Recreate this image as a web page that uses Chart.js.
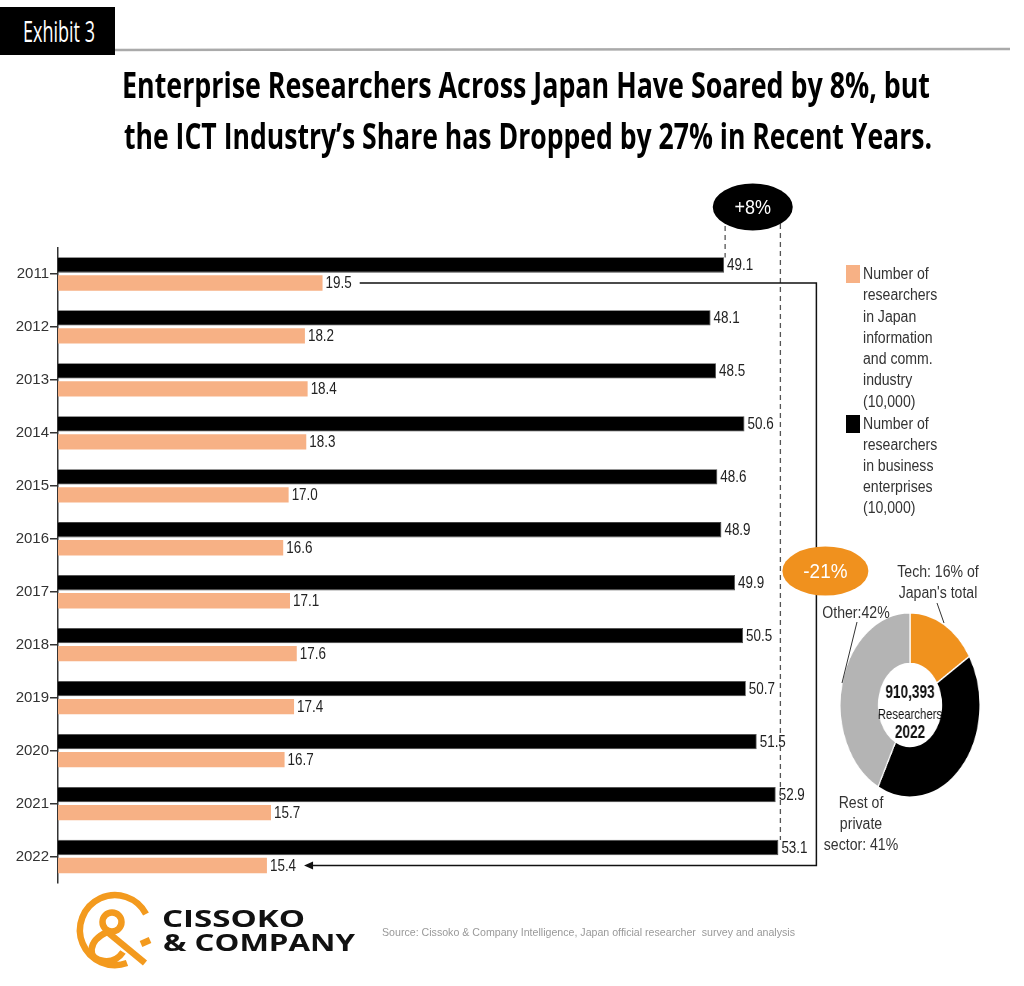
<!DOCTYPE html>
<html><head><meta charset="utf-8">
<script src="https://cdn.jsdelivr.net/npm/chart.js@4.4.1/dist/chart.umd.min.js"></script>
<style>
html,body{margin:0;padding:0;background:#fff;}
#wrap{position:relative;width:1024px;height:986px;overflow:hidden;font-family:"Liberation Sans",Arial,sans-serif;color:#333;}
.abs{position:absolute;white-space:pre;}
.fit{display:inline-block;transform-origin:0 50%;}
.cond{transform:scaleX(0.88);transform-origin:0 0;}
.ccond{transform:scaleX(0.88);transform-origin:50% 0;text-align:center;}
</style></head><body>
<div id="wrap">
<canvas id="bar" width="1024" height="986" style="position:absolute;left:0;top:0"></canvas>
<canvas id="donut" width="186" height="186" style="position:absolute;left:816.5px;top:612px;transform:scaleX(0.758);transform-origin:50% 50%"></canvas>

<svg width="1024" height="986" style="position:absolute;left:0;top:0" xmlns="http://www.w3.org/2000/svg">
  <rect x="0" y="7" width="115" height="48" fill="#000"/>
  <line x1="115" y1="50" x2="1010" y2="49" stroke="#aaa" stroke-width="2.5"/>
  <rect x="846" y="265" width="14" height="18" fill="#F7B185"/>
  <rect x="846" y="415" width="14" height="18" fill="#000"/>
  <line x1="937" y1="603" x2="944" y2="623" stroke="#333" stroke-width="1"/>
  <line x1="857" y1="622" x2="842" y2="683" stroke="#333" stroke-width="1"/>
  <g fill="none" stroke="#F39A1E" stroke-width="6.5" stroke-linecap="butt">
    <path d="M146 914 A35 35 0 1 0 127 963"/>
    <path d="M141 944 L150 940"/>
    <circle cx="112" cy="922" r="9.5"/>
    <path d="M105 930 L145 963"/>
    <path d="M107 932 C88 941 86 959 104 961 C113 962 119 958 123 952"/>
  </g>
</svg>

<div class="abs" style="left:23px;top:11px;font:30px 'Open Sans',sans-serif;color:#fff;line-height:40px"><span class="fit" data-w="72">Exhibit 3</span></div>

<div class="abs" style="left:122px;top:64px;font:700 35px 'Open Sans',sans-serif;color:#000;line-height:42px"><span class="fit" data-w="808">Enterprise Researchers Across Japan Have Soared by 8%, but</span></div>
<div class="abs" style="left:124px;top:115px;font:700 35px 'Open Sans',sans-serif;color:#000;line-height:42px"><span class="fit" data-w="808">the ICT Industry’s Share has Dropped by 27% in Recent Years.</span></div>

<div class="abs cond" style="left:863px;top:263px;font-size:16px;line-height:21.3px">Number of
researchers
in Japan
information
and comm.
industry
(10,000)</div>
<div class="abs cond" style="left:863px;top:413px;font-size:16px;line-height:21px">Number of
researchers
in business
enterprises
(10,000)</div>

<div class="abs ccond" style="left:838px;width:200px;top:561px;font-size:16px;line-height:21px">Tech: 16% of
Japan's total</div>
<div class="abs ccond" style="left:756px;width:200px;top:602px;font-size:16px;line-height:21px">Other:42%</div>
<div class="abs ccond" style="left:761px;width:200px;top:792px;font-size:16px;line-height:21px">Rest of
private
sector: 41%</div>

<div class="abs" style="left:162px;top:903px;font:700 23px 'Open Sans',sans-serif;color:#111;line-height:30px"><span class="fit" data-w="143">CISSOKO</span></div>
<div class="abs" style="left:163px;top:927px;font:700 23px 'Open Sans',sans-serif;color:#111;line-height:30px"><span class="fit" data-w="192">&amp; COMPANY</span></div>
<div class="abs" style="left:382px;top:925px;font-size:11px;color:#999;line-height:14px"><span class="fit" data-w="413">Source: Cissoko &amp; Company Intelligence, Japan official researcher  survey and analysis</span></div>
</div>

<script>
// ---- data ----
const years = ['2011','2012','2013','2014','2015','2016','2017','2018','2019','2020','2021','2022'];
const businessResearchers = [49.1,48.1,48.5,50.6,48.6,48.9,49.9,50.5,50.7,51.5,52.9,53.1];
const ictResearchers = [19.5,18.2,18.4,18.3,17.0,16.6,17.1,17.6,17.4,16.7,15.7,15.4];
const businessLabel = 'Number of researchers in business enterprises (10,000)';
const ictLabel = 'Number of researchers in Japan information and comm. industry (10,000)';
const donutLabels = ['Tech','Rest of private sector','Other'];
const donutShares = [16,41,42];
const donutTotal = '910,393';
const donutYear = '2022';
const xMax = 60;

const FONT = '"Liberation Sans", Arial, sans-serif';

function fitAll(){
  document.querySelectorAll('.fit').forEach(el=>{
    el.style.transform='none';
    const w = el.getBoundingClientRect().width;
    const t = parseFloat(el.dataset.w);
    el.style.transform = 'scaleX(' + (t/w) + ')';
  });
}

const valueLabels = {
  id:'valueLabels',
  afterDatasetsDraw(chart){
    const ctx = chart.ctx;
    ctx.save();
    ctx.font = '16px ' + FONT;
    ctx.fillStyle = '#222';
    ctx.textBaseline = 'middle';
    chart.data.datasets.forEach((ds,i)=>{
      chart.getDatasetMeta(i).data.forEach((el,j)=>{
        ctx.save();
        ctx.translate(el.x + 3, el.y + 1);
        ctx.scale(0.84,1);
        ctx.fillText(ds.data[j].toFixed(1),0,0);
        ctx.restore();
      });
    });
    ctx.restore();
  }
};

function ellipse(ctx,cx,cy,rx,ry,fill,text,size){
  ctx.save();
  ctx.beginPath();
  ctx.ellipse(cx,cy,rx,ry,0,0,Math.PI*2);
  ctx.fillStyle = fill; ctx.fill();
  ctx.fillStyle = '#fff';
  ctx.font = size + 'px ' + FONT;
  ctx.textAlign = 'center'; ctx.textBaseline = 'middle';
  ctx.translate(cx,cy+1); ctx.scale(0.9,1);
  ctx.fillText(text,0,0);
  ctx.restore();
}

const annotations = {
  id:'annotations',
  afterDraw(chart){
    const ctx = chart.ctx, xs = chart.scales.x;
    const mB = chart.getDatasetMeta(0).data, mI = chart.getDatasetMeta(1).data;
    const n = mB.length;
    ctx.save();
    ctx.font = '16px ' + FONT;
    const lw = v => ctx.measureText(v.toFixed(1)).width*0.84;
    const xL = xs.getPixelForValue(businessResearchers[0]) + 1;
    const xR = xs.getPixelForValue(businessResearchers[n-1]) + 2;
    ctx.strokeStyle = '#555'; ctx.lineWidth = 1.3; ctx.setLineDash([5,4]);
    ctx.beginPath();
    ctx.moveTo(xL, 226); ctx.lineTo(xL, mB[0].y - 7.5);
    ctx.moveTo(xR, 224); ctx.lineTo(xR, mB[n-1].y - 7.5);
    ctx.stroke();
    ctx.setLineDash([]);
    const xV = xR + 36;
    const y1 = mI[0].y, y2 = mI[n-1].y;
    const xStart = mI[0].x + 3 + lw(ictResearchers[0]) + 8;
    const xTip = mI[n-1].x + 3 + lw(ictResearchers[n-1]) + 8;
    ctx.strokeStyle = '#111'; ctx.lineWidth = 1.5;
    ctx.beginPath();
    ctx.moveTo(xStart,y1); ctx.lineTo(xV,y1); ctx.lineTo(xV,y2); ctx.lineTo(xTip+7,y2);
    ctx.stroke();
    ctx.fillStyle = '#111';
    ctx.beginPath();
    ctx.moveTo(xTip,y2); ctx.lineTo(xTip+9,y2-4); ctx.lineTo(xTip+9,y2+4); ctx.closePath(); ctx.fill();
    ctx.restore();
    const up = Math.round((businessResearchers[n-1]/businessResearchers[0]-1)*100);
    const dn = Math.round((ictResearchers[n-1]/ictResearchers[0]-1)*100);
    ellipse(ctx,(xL+xR)/2,207,40,23.5,'#000',(up>0?'+':'')+up+'%',20);
    ellipse(ctx,xV+9,571,43,24.5,'#F0911E',dn+'%',21);
  }
};

new Chart(document.getElementById('bar'),{
  type:'bar',
  data:{
    labels:years,
    datasets:[
      {label:businessLabel,data:businessResearchers,backgroundColor:'#000',borderColor:'#444',borderWidth:0.8,categoryPercentage:0.68,barPercentage:0.85},
      {label:ictLabel,data:ictResearchers,backgroundColor:'#F7B185',categoryPercentage:0.68,barPercentage:0.85}
    ]
  },
  options:{
    indexAxis:'y',
    responsive:false,
    animation:false,
    layout:{padding:{left:0,right:152,top:247.5,bottom:103}},
    plugins:{legend:{display:false},tooltip:{enabled:false}},
    scales:{
      x:{display:false,min:0,max:xMax},
      y:{
        afterFit(s){ s.width = 58; },
        border:{display:true,color:'#333',width:1.5},
        grid:{display:true,drawOnChartArea:false,drawTicks:true,tickLength:8,offset:false,color:'#333',lineWidth:1.5},
        ticks:{color:'#333',font:{family:FONT,size:15},padding:1}
      }
    }
  },
  plugins:[valueLabels,annotations]
});

const centerText = {
  id:'centerText',
  afterDraw(chart){
    const ctx = chart.ctx;
    const a = chart.getDatasetMeta(0).data[0];
    const cx = a.x, cy = a.y;
    ctx.save();
    ctx.fillStyle = '#111'; ctx.textAlign='center'; ctx.textBaseline='middle';
    ctx.font = 'bold 18px ' + FONT; ctx.fillText(donutTotal,cx,cy-12);
    ctx.font = '15px ' + FONT; ctx.fillText('Researchers',cx,cy+10);
    ctx.font = 'bold 18px ' + FONT; ctx.fillText(donutYear,cx,cy+28);
    ctx.restore();
  }
};

new Chart(document.getElementById('donut'),{
  type:'doughnut',
  data:{labels:donutLabels,datasets:[{data:donutShares,backgroundColor:['#F0921E','#000','#B4B4B4'],borderColor:'#fff',borderWidth:1.5}]},
  options:{responsive:false,animation:false,cutout:'45%',layout:{padding:0},plugins:{legend:{display:false},tooltip:{enabled:false}}},
  plugins:[centerText]
});

fitAll();
if (document.fonts && document.fonts.ready) document.fonts.ready.then(fitAll);
</script>
</body></html>
